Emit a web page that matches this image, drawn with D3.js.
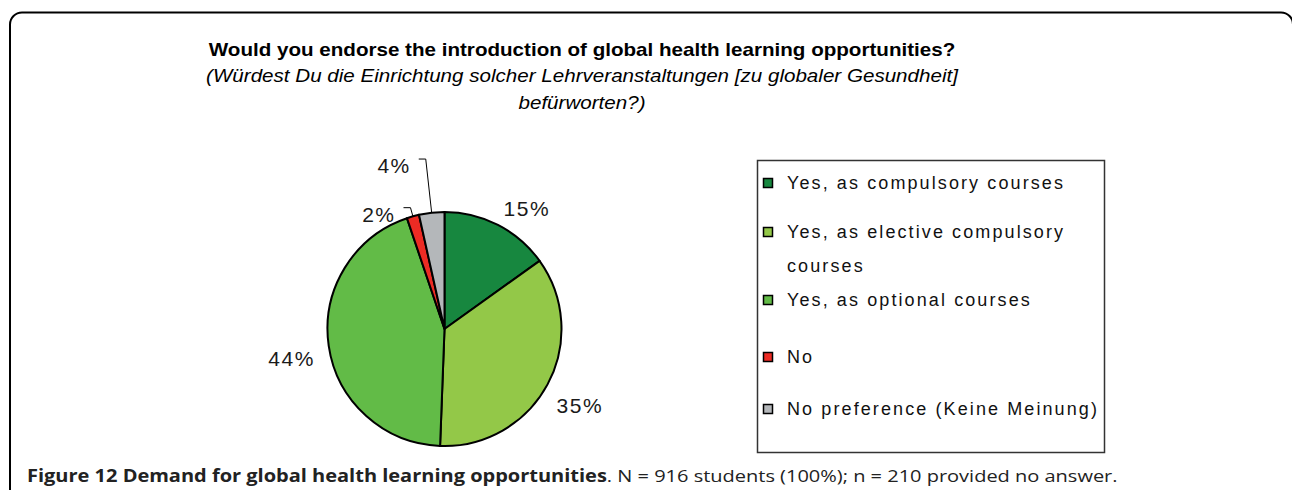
<!DOCTYPE html>
<html>
<head>
<meta charset="utf-8">
<script src="https://cdn.jsdelivr.net/npm/d3@7"></script>
<style>
  body { margin: 0; background: #fff; }
  svg { display: block; }
</style>
</head>
<body>
<svg id="chart" width="1292" height="490"></svg>
<script>
// answers, clockwise from 12 o'clock
var categories = ["Yes, as compulsory courses", "Yes, as elective compulsory courses",
  "Yes, as optional courses", "No", "No preference (Keine Meinung)"];
var shares = [15.1, 35.5, 44.2, 1.7, 3.5];
var pctLabels = ["15%", "35%", "44%", "2%", "4%"];
var colors = ["#17873f", "#93c848", "#62bb47", "#ec2b24", "#b4b7ba"];
var titleLines = ["Would you endorse the introduction of global health learning opportunities?",
  "(Würdest Du die Einrichtung solcher Lehrveranstaltungen [zu globaler Gesundheit]",
  "befürworten?)"];
var captionBold = "Figure 12 Demand for global health learning opportunities";
var captionRest = ". N = 916 students (100%); n = 210 provided no answer.";

var svg = d3.select("#chart");
var font = "'Liberation Sans', Arial, sans-serif";

// frame
svg.append("rect")
    .attr("x", 10).attr("y", 12.5)
    .attr("width", 1283).attr("height", 600)
    .attr("rx", 12)
    .attr("fill", "none")
    .attr("stroke", "#000")
    .attr("stroke-width", 2);

// title (source image is a bit stretched sideways)
var titleX = 582, stretch = 1.145;
svg.append("g")
    .attr("transform", "translate(" + titleX + ",0) scale(" + stretch + ",1)")
  .selectAll("text")
    .data(titleLines)
  .enter().append("text")
    .attr("x", 0)
    .attr("y", function(d, i) { return 56 + i * 26.5; })
    .attr("text-anchor", "middle")
    .style("font-family", font)
    .style("font-size", "18px")
    .style("font-weight", function(d, i) { return i === 0 ? "bold" : "normal"; })
    .style("font-style", function(d, i) { return i === 0 ? "normal" : "italic"; })
    .text(function(d) { return d; });

// pie
var cx = 444.5, cy = 329, radius = 117;
var pie = d3.pie().sort(null).value(function(d) { return d; });
var arcs = pie(shares);
var arc = d3.arc().innerRadius(0).outerRadius(radius);
var g = svg.append("g").attr("transform", "translate(" + cx + "," + cy + ")");

g.selectAll("path.slice")
    .data(arcs)
  .enter().append("path")
    .attr("class", "slice")
    .attr("d", arc)
    .attr("fill", function(d, i) { return colors[i]; })
    .attr("stroke", "#000")
    .attr("stroke-width", 2)
    .attr("stroke-linejoin", "round");

function polar(a, r) { return [r * Math.sin(a), -r * Math.cos(a)]; }
function mid(d) { return (d.startAngle + d.endAngle) / 2; }

// leader radius for the thin slices (0 = label sits next to slice)
var leaderR = [0, 0, 0, 126, 171];

var labels = g.append("g")
    .style("font-family", font)
    .style("font-size", "21px")
    .style("letter-spacing", "1.5px")
    .attr("fill", "#1a1a1a");

arcs.forEach(function(d, i) {
  var a = mid(d);
  if (leaderR[i]) {
    var p1 = polar(a, radius), p2 = polar(a, leaderR[i]);
    var p3 = [p2[0] - 7, p2[1]];
    g.append("polyline")
        .attr("points", [p1, p2, p3].map(function(p) { return p.join(","); }).join(" "))
        .attr("fill", "none")
        .attr("stroke", "#000")
        .attr("stroke-width", 1);
    labels.append("text")
        .attr("x", p3[0] - 8)
        .attr("y", p3[1] + 14)
        .attr("text-anchor", "end")
        .text(pctLabels[i]);
  } else {
    var p = polar(a, radius + 8);
    var right = Math.sin(a) > 0, top = Math.cos(a) > 0;
    labels.append("text")
        .attr("x", p[0] + (right ? 2 : -6))
        .attr("y", p[1] + (top ? -2 : 17 + 17 * Math.abs(Math.cos(a))))
        .attr("text-anchor", right ? "start" : "end")
        .text(pctLabels[i]);
  }
});

// legend
var lx = 757, ly = 160;
svg.append("rect")
    .attr("x", lx + 0.5).attr("y", ly + 0.5)
    .attr("width", 347).attr("height", 292)
    .attr("fill", "#fff")
    .attr("stroke", "#333")
    .attr("stroke-width", 1.5);

var rowY = [183, 232, 300, 357, 409];
var legend = svg.append("g")
    .style("font-family", font)
    .style("font-size", "18px")
    .style("letter-spacing", "2.1px")
    .attr("fill", "#111");

var items = legend.selectAll("g")
    .data(categories)
  .enter().append("g")
    .attr("transform", function(d, i) { return "translate(" + (lx + 6) + "," + rowY[i] + ")"; });

items.append("rect")
    .attr("x", 0.5).attr("y", -4.5)
    .attr("width", 9).attr("height", 9)
    .attr("fill", function(d, i) { return colors[i]; })
    .attr("stroke", "#000")
    .attr("stroke-width", 1.5);

items.each(function(d, i) {
  var t = d3.select(this).append("text").attr("x", 24).attr("y", 6);
  if (i === 1) {
    t.append("tspan").attr("x", 24).text("Yes, as elective compulsory");
    t.append("tspan").attr("x", 24).attr("dy", 34).text("courses");
  } else {
    t.text(d);
  }
});

// caption
var cap = svg.append("text")
    .attr("transform", "translate(27,481.5) scale(1.177,1)")
    .style("font-family", "'Open Sans', 'Noto Sans', sans-serif")
    .style("font-size", "17px")
    .attr("fill", "#222");
cap.append("tspan").style("font-weight", "bold").text(captionBold);
cap.append("tspan").text(captionRest);
</script>
</body>
</html>
